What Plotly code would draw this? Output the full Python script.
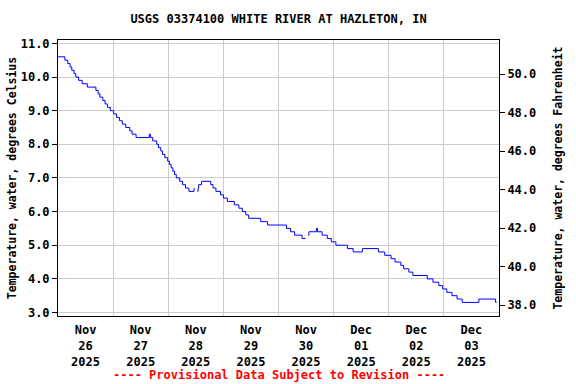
import plotly.graph_objects as go

# ---- data ----
times = [
    "2025-11-26 00:00", "2025-11-26 03:00", "2025-11-26 04:15", "2025-11-26 05:15",
    "2025-11-26 06:00", "2025-11-26 07:00", "2025-11-26 07:45", "2025-11-26 09:00",
    "2025-11-26 10:30", "2025-11-26 12:45", "2025-11-26 16:30", "2025-11-26 17:30",
    "2025-11-26 18:15", "2025-11-26 19:30", "2025-11-26 20:30", "2025-11-26 21:30",
    "2025-11-26 22:45", "2025-11-27 00:15", "2025-11-27 01:30", "2025-11-27 02:45",
    "2025-11-27 04:00", "2025-11-27 05:30", "2025-11-27 07:15", "2025-11-27 08:15",
    "2025-11-27 10:00", "2025-11-27 15:45", "2025-11-27 16:15", "2025-11-27 17:15",
    "2025-11-27 19:00", "2025-11-27 19:45", "2025-11-27 20:45", "2025-11-27 21:30",
    "2025-11-27 22:30", "2025-11-27 23:45", "2025-11-28 00:30", "2025-11-28 01:15",
    "2025-11-28 02:00", "2025-11-28 02:45", "2025-11-28 03:30", "2025-11-28 05:00",
    "2025-11-28 06:15", "2025-11-28 07:30", "2025-11-28 09:00", "2025-11-28 11:15",
    "2025-11-28 11:30",
    "2025-11-28 12:45", "2025-11-28 13:00", "2025-11-28 13:15", "2025-11-28 14:30",
    "2025-11-28 18:30", "2025-11-28 19:30", "2025-11-28 20:45", "2025-11-28 22:45",
    "2025-11-29 00:00", "2025-11-29 01:45", "2025-11-29 04:45", "2025-11-29 06:45",
    "2025-11-29 08:15", "2025-11-29 09:45", "2025-11-29 11:00", "2025-11-29 16:15",
    "2025-11-29 19:15", "2025-11-30 03:30", "2025-11-30 05:15", "2025-11-30 07:00",
    "2025-11-30 10:15", "2025-11-30 11:45",
    "2025-11-30 12:00",
    "2025-11-30 12:45", "2025-11-30 13:15", "2025-11-30 16:30", "2025-11-30 17:00",
    "2025-11-30 19:00", "2025-11-30 21:15", "2025-11-30 23:00", "2025-12-01 01:00",
    "2025-12-01 06:00", "2025-12-01 08:30", "2025-12-01 12:30", "2025-12-01 19:30",
    "2025-12-01 22:15", "2025-12-02 01:00", "2025-12-02 02:45", "2025-12-02 05:15",
    "2025-12-02 06:30", "2025-12-02 08:45", "2025-12-02 10:30", "2025-12-02 16:45",
    "2025-12-02 19:15", "2025-12-02 21:45", "2025-12-02 23:30", "2025-12-03 01:15",
    "2025-12-03 03:30", "2025-12-03 05:45", "2025-12-03 08:00", "2025-12-03 15:15",
    "2025-12-03 22:30", "2025-12-03 23:00",
]
temps_c = [
    10.6, 10.5, 10.4, 10.3,
    10.2, 10.1, 10.0, 9.9,
    9.8, 9.7, 9.6, 9.5,
    9.4, 9.3, 9.2, 9.1,
    9.0, 8.9, 8.8, 8.7,
    8.6, 8.5, 8.4, 8.3,
    8.2, 8.3, 8.2, 8.1,
    8.0, 7.9, 7.8, 7.7,
    7.6, 7.5, 7.4, 7.3,
    7.2, 7.1, 7.0, 6.9,
    6.8, 6.7, 6.6, 6.7,
    None,
    6.6, 6.7, 6.8, 6.9,
    6.8, 6.7, 6.6, 6.5,
    6.4, 6.3, 6.2, 6.1,
    6.0, 5.9, 5.8, 5.7,
    5.6, 5.5, 5.4, 5.3,
    5.2, 5.2,
    None,
    5.3, 5.4, 5.5, 5.4,
    5.3, 5.2, 5.1, 5.0,
    4.9, 4.8, 4.9, 4.8,
    4.7, 4.6, 4.5, 4.4,
    4.3, 4.2, 4.1, 4.0,
    3.9, 3.8, 3.7, 3.6,
    3.5, 3.4, 3.3, 3.4,
    3.3, 3.3,
]

day_starts = ["2025-11-26", "2025-11-27", "2025-11-28", "2025-11-29",
              "2025-11-30", "2025-12-01", "2025-12-02", "2025-12-03", "2025-12-04"]
label_times = ["2025-11-26 12:00", "2025-11-27 12:00", "2025-11-28 12:00", "2025-11-29 12:00",
               "2025-11-30 12:00", "2025-12-01 12:00", "2025-12-02 12:00", "2025-12-03 12:00"]
tick_labels = ["Nov<br>26<br>2025", "Nov<br>27<br>2025", "Nov<br>28<br>2025", "Nov<br>29<br>2025",
               "Nov<br>30<br>2025", "Dec<br>01<br>2025", "Dec<br>02<br>2025", "Dec<br>03<br>2025"]
c_ticks = [3, 4, 5, 6, 7, 8, 9, 10, 11]
f_ticks = [38, 40, 42, 44, 46, 48, 50]

FONT = "DejaVu Sans Mono"
fnt = dict(family=FONT, size=12, color="black")

fig = go.Figure()
fig.add_trace(go.Scatter(
    x=times, y=temps_c, mode="lines",
    line=dict(color="#0000ff", width=1, shape="hv"),
    connectgaps=False, showlegend=False, hoverinfo="skip",
))
# empty helper trace so the Fahrenheit axis is drawn
fig.add_trace(go.Scatter(x=[None], y=[None], yaxis="y2", mode="lines",
                         showlegend=False, hoverinfo="skip"))

fig.update_layout(
    width=576, height=384,
    margin=dict(l=58, r=77, t=40, b=68, autoexpand=False),
    paper_bgcolor="white", plot_bgcolor="white",
    font=fnt,
    title=dict(text="<b>USGS 03374100 WHITE RIVER AT HAZLETON, IN</b>",
               x=0.5, xref="paper", xanchor="center",
               y=1 - 19 / 384, yref="container", yanchor="middle",
               font=dict(family=FONT, size=12, color="black")),
    xaxis=dict(
        type="date", automargin=False,
        range=[day_starts[0], day_starts[-1]],
        tickmode="array", tickvals=label_times,
        ticktext=["<b>" + t.replace("<br>", "</b><br><b>") + "</b>" for t in tick_labels],
        ticks="", showgrid=False, zeroline=False, ticklabelstandoff=3,
        showline=True, linecolor="black", linewidth=1, mirror=True,
        minor=dict(tickmode="array", tickvals=day_starts[1:-1], showgrid=True,
                   gridcolor="#cccccc", gridwidth=1, ticks=""),
        tickfont=fnt,
    ),
    yaxis=dict(
        range=[2.896, 11.10], automargin=False,
        tickmode="array", tickvals=c_ticks,
        ticktext=["<b>%.1f</b>" % v for v in c_ticks],
        ticks="outside", ticklen=5, tickcolor="black",
        showgrid=True, gridcolor="#cccccc", gridwidth=1, zeroline=False,
        showline=True, linecolor="black", linewidth=1,
        title=dict(text="<b>Temperature, water, degrees Celsius</b>",
                   font=dict(family=FONT, size=11.5, color="black"), standoff=1),
        tickfont=fnt,
    ),
    yaxis2=dict(
        overlaying="y", side="right", anchor="x", automargin=False,
        range=[37.44, 51.78],
        tickmode="array", tickvals=f_ticks,
        ticktext=["<b>%.1f</b>" % v for v in f_ticks],
        ticks="outside", ticklen=5, tickcolor="black",
        showgrid=False, zeroline=False,
        showline=True, linecolor="black", linewidth=1,
        title=dict(text="<b>Temperature, water, degrees Fahrenheit</b>",
                   font=dict(family=FONT, size=11.5, color="black"), standoff=18),
        tickfont=fnt,
    ),
    annotations=[dict(
        text="<b>---- Provisional Data Subject to Revision ----</b>",
        x=0.5, xref="paper", xanchor="center",
        y=(316 - 375) / 276, yref="paper", yanchor="middle",
        showarrow=False, font=dict(family=FONT, size=12, color="#ff0000"),
    )],
)

fig.write_html("out.html", config={"displayModeBar": False},
               post_script="document.body.style.margin='0';document.body.style.padding='0';")
